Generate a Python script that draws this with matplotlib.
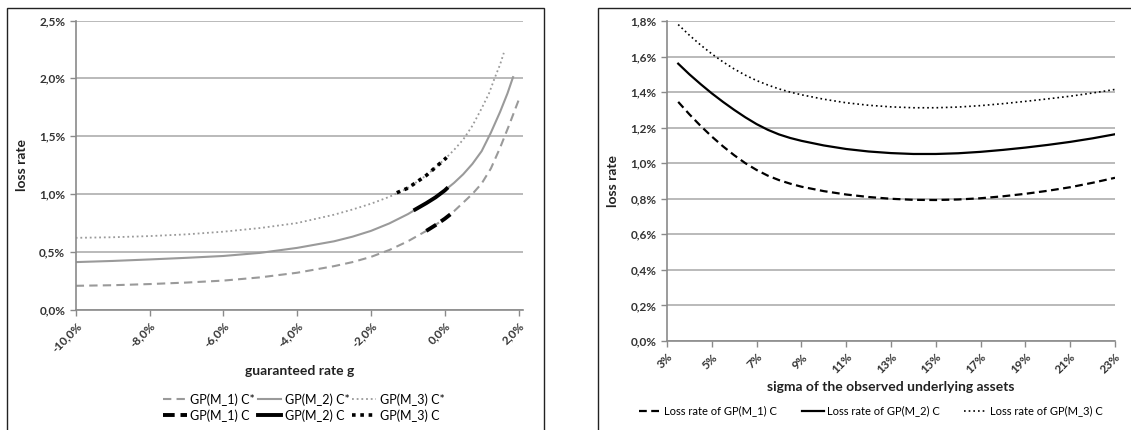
import matplotlib
matplotlib.use("Agg")
import matplotlib.pyplot as plt
from matplotlib.patches import Rectangle
from matplotlib.ticker import FuncFormatter, MultipleLocator

plt.rcParams["font.family"] = ["Lato", "DejaVu Sans"]

# guaranteed rate g (in %) and loss rates (in %) of the C* portfolios
g_m1_star = [-10, -9, -8, -7, -6, -5, -4, -3, -2.5, -2, -1.5, -1, -0.5, 0, 0.25, 0.5, 0.75,
             1.0, 1.25, 1.5, 1.75, 2.0]
loss_m1_star = [0.205, 0.21, 0.22, 0.233, 0.25, 0.278, 0.318, 0.375, 0.41, 0.455, 0.515, 0.59,
                0.68, 0.785, 0.85, 0.925, 1.0, 1.09, 1.22, 1.4, 1.6, 1.81]
g_m2_star = [-10, -9, -8, -7, -6, -5, -4, -3, -2.5, -2, -1.5, -1, -0.5, 0, 0.25, 0.5, 0.75,
             1.0, 1.25, 1.5, 1.7, 1.85]
loss_m2_star = [0.41, 0.42, 0.433, 0.447, 0.463, 0.49, 0.533, 0.59, 0.63, 0.68, 0.745, 0.825,
                0.92, 1.03, 1.095, 1.17, 1.26, 1.37, 1.53, 1.71, 1.87, 2.01]
g_m3_star = [-10, -9, -8, -7, -6, -5, -4, -3, -2.5, -2, -1.5, -1, -0.5, 0, 0.25, 0.5, 0.75,
             1.0, 1.2, 1.35, 1.5, 1.6]
loss_m3_star = [0.62, 0.625, 0.635, 0.65, 0.673, 0.705, 0.748, 0.82, 0.865, 0.915, 0.975, 1.05,
                1.16, 1.30, 1.38, 1.47, 1.59, 1.74, 1.87, 2.0, 2.12, 2.22]

# loss rates of the C portfolios (short stretch around g = 0)
g_m1_c = [-0.5, -0.25, 0, 0.2]
loss_m1_c = [0.68, 0.73, 0.785, 0.835]
g_m2_c = [-0.8, -0.5, -0.25, 0, 0.05]
loss_m2_c = [0.865, 0.92, 0.97, 1.03, 1.045]
g_m3_c = [-1.3, -1.0, -0.5, 0, 0.05]
loss_m3_c = [1.01, 1.05, 1.16, 1.30, 1.315]

# sigma of the observed underlying assets (in %) and loss rates (in %)
sigma = [3.5, 4, 4.5, 5, 5.5, 6, 6.5, 7, 7.5, 8, 8.5, 9, 10, 11, 12, 13, 14, 15, 16, 17, 18,
         19, 20, 21, 22, 23]
loss_sigma_m1 = [1.345, 1.275, 1.21, 1.15, 1.095, 1.045, 1.0, 0.962, 0.93, 0.905, 0.885, 0.868,
                 0.843, 0.824, 0.81, 0.80, 0.794, 0.793, 0.796, 0.803, 0.814, 0.828, 0.845,
                 0.865, 0.89, 0.918]
loss_sigma_m2 = [1.56, 1.50, 1.445, 1.393, 1.345, 1.30, 1.258, 1.22, 1.188, 1.162, 1.142, 1.126,
                 1.10, 1.08, 1.066, 1.057, 1.052, 1.052, 1.056, 1.064, 1.075, 1.088, 1.103, 1.12,
                 1.14, 1.163]
loss_sigma_m3 = [1.78, 1.72, 1.665, 1.615, 1.57, 1.53, 1.495, 1.465, 1.44, 1.418, 1.40, 1.385,
                 1.36, 1.34, 1.326, 1.317, 1.312, 1.312, 1.316, 1.324, 1.335, 1.348, 1.362,
                 1.377, 1.395, 1.415]
sigma_ticks = [3, 5, 7, 9, 11, 13, 15, 17, 19, 21, 23]

W, H = 1131, 430
fig = plt.figure(figsize=(W / 100, H / 100), dpi=100)

# chart area frames
for x0, x1 in [(7, 544), (598, 1140)]:
    fig.add_artist(Rectangle((x0 / W, -0.1), (x1 - x0) / W, 1.1 - 8 / H,
                             transform=fig.transFigure, fill=False,
                             edgecolor="#222222", linewidth=1.0))


def style_axes(ax):
    for side in ("top", "right"):
        ax.spines[side].set_visible(False)
    for side in ("left", "bottom"):
        ax.spines[side].set_color("#8a8a8a")
        ax.spines[side].set_linewidth(1.2)
    ax.grid(axis="y", color="#b4b4b4", linewidth=1.3)
    ax.set_axisbelow(True)
    ax.tick_params(axis="both", colors="#8a8a8a", length=4, width=1.0,
                   labelcolor="#333333", labelsize=8.5)
    for lbl in ax.get_xticklabels() + ax.get_yticklabels():
        lbl.set_fontweight("bold")
    for lbl in ax.get_xticklabels():
        lbl.set_rotation(45)
        lbl.set_ha("right")
        lbl.set_rotation_mode("anchor")


def pct_fmt(decimals):
    return FuncFormatter(lambda v, _: f"{v:.{decimals}f}%".replace(".", ","))


gray = "#9a9a9a"

# left chart: loss rate vs guaranteed rate
ax1 = fig.add_axes([75.7 / W, 1 - 309.5 / H, 447.3 / W, 289 / H])
ax1.plot(g_m1_star, loss_m1_star, color=gray, lw=1.5, ls=(0, (4, 2.5)), label="GP(M_1) C*")
ax1.plot(g_m1_c, loss_m1_c, color="black", lw=2.8, ls=(0, (3, 1.5)), label="GP(M_1) C")
ax1.plot(g_m2_star, loss_m2_star, color=gray, lw=1.5, label="GP(M_2) C*")
ax1.plot(g_m2_c, loss_m2_c, color="black", lw=2.8, label="GP(M_2) C")
ax1.plot(g_m3_star, loss_m3_star, color=gray, lw=1.3, ls=(0, (1, 1.6)), label="GP(M_3) C*")
ax1.plot(g_m3_c, loss_m3_c, color="black", lw=2.6, ls=(0, (1, 1.3)), label="GP(M_3) C")
ax1.set_xlim(-10, 2.12)
ax1.set_ylim(0, 2.5)
ax1.xaxis.set_major_locator(MultipleLocator(2))
ax1.yaxis.set_major_locator(MultipleLocator(0.5))
ax1.xaxis.set_major_formatter(pct_fmt(1))
ax1.yaxis.set_major_formatter(pct_fmt(1))
style_axes(ax1)
ax1.set_xlabel("guaranteed rate g", fontsize=10, fontweight="bold", color="#222222", labelpad=8)
ax1.set_ylabel("loss rate", fontsize=10, fontweight="bold", color="#222222", labelpad=8)
ax1.legend(loc="upper center", bbox_to_anchor=(0.51, -0.25), ncol=3, frameon=False,
           fontsize=9, handlelength=1.9, handletextpad=0.3, columnspacing=0.2,
           labelspacing=0.3)

# right chart: loss rate vs sigma
ax2 = fig.add_axes([667 / W, 1 - 341 / H, 448 / W, 320 / H])
ax2.plot(sigma, loss_sigma_m1, color="black", lw=1.6, ls=(0, (3.5, 2)),
         label="Loss rate of GP(M_1) C")
ax2.plot(sigma, loss_sigma_m2, color="black", lw=1.6, label="Loss rate of GP(M_2) C")
ax2.plot(sigma, loss_sigma_m3, color="black", lw=1.2, ls=(0, (1, 1.8)),
         label="Loss rate of GP(M_3) C")
ax2.set_xlim(3, 23)
ax2.set_ylim(0, 1.8)
ax2.set_xticks(sigma_ticks)
ax2.yaxis.set_major_locator(MultipleLocator(0.2))
ax2.xaxis.set_major_formatter(pct_fmt(0))
ax2.yaxis.set_major_formatter(pct_fmt(1))
style_axes(ax2)
ax2.set_xlabel("sigma of the observed underlying assets", fontsize=10, fontweight="bold",
               color="#222222", labelpad=4)
ax2.set_ylabel("loss rate", fontsize=10, fontweight="bold", color="#222222", labelpad=8)
ax2.legend(loc="upper center", bbox_to_anchor=(0.455, -0.17), ncol=3, frameon=False,
           fontsize=8, handlelength=2.0, handletextpad=0.3, columnspacing=2.2)

fig.savefig("out.png", dpi=100, facecolor="white")
